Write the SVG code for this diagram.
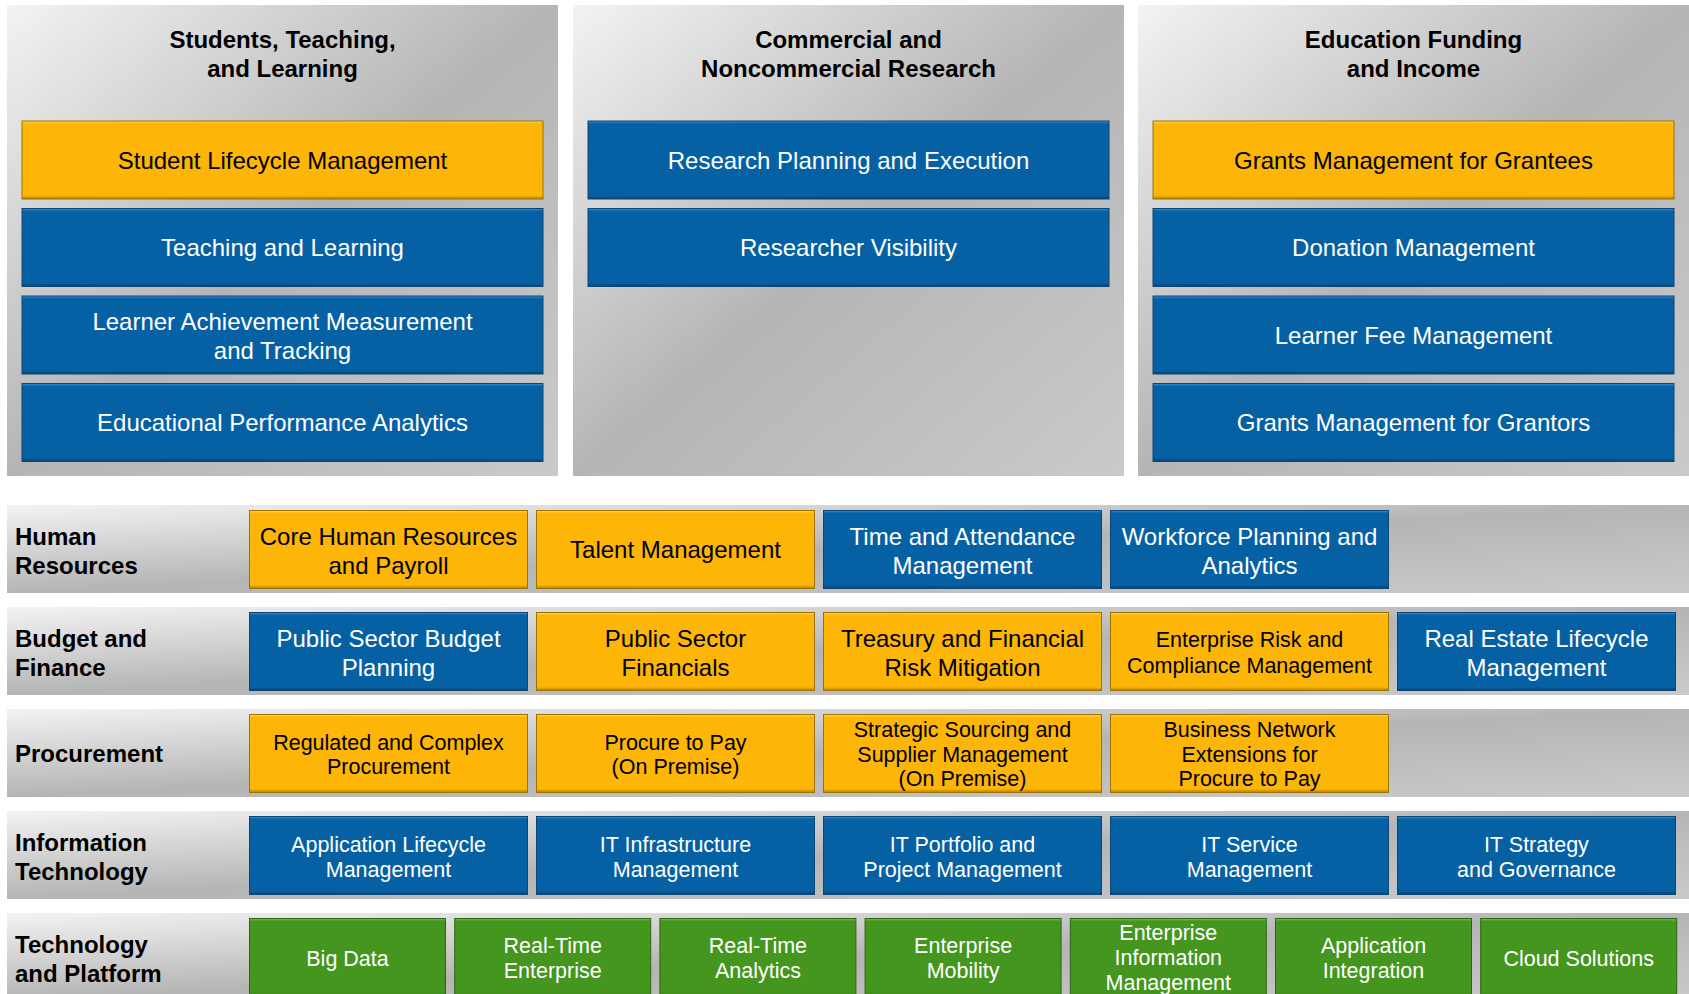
<svg xmlns="http://www.w3.org/2000/svg" width="1689" height="994" viewBox="0 0 1689 994">
<defs>
<linearGradient id="bg" x1="0" y1="0" x2="1" y2="1">
<stop offset="0" stop-color="#f3f3f3"/>
<stop offset="0.5" stop-color="#b5b5b5"/>
<stop offset="1" stop-color="#cacaca"/>
</linearGradient>
<linearGradient id="gGold" x1="0" y1="0" x2="0" y2="1">
<stop offset="0" stop-color="#ffdc55"/>
<stop offset="0.035" stop-color="#fdb507"/>
<stop offset="0.955" stop-color="#fdb507"/>
<stop offset="1" stop-color="#b07e00"/>
</linearGradient>
<linearGradient id="gBlue" x1="0" y1="0" x2="0" y2="1">
<stop offset="0" stop-color="#3a90d8"/>
<stop offset="0.035" stop-color="#0661a4"/>
<stop offset="0.955" stop-color="#0661a4"/>
<stop offset="1" stop-color="#0a426c"/>
</linearGradient>
<linearGradient id="gGreen" x1="0" y1="0" x2="0" y2="1">
<stop offset="0" stop-color="#74c552"/>
<stop offset="0.035" stop-color="#44961e"/>
<stop offset="0.955" stop-color="#44961e"/>
<stop offset="1" stop-color="#2c6412"/>
</linearGradient>
</defs>
<style>
.bgp{fill:url(#bg)}
.gold{fill:url(#gGold);stroke:#9c7200;stroke-width:1}
.blue{fill:url(#gBlue);stroke:#0c4676;stroke-width:1}
.green{fill:url(#gGreen);stroke:#2d6613;stroke-width:1}
text{font-family:"Liberation Sans",Arial,Helvetica,sans-serif}
.c{text-anchor:middle}
.dk{fill:#000}
.lt{fill:#fff}
.f24{font-size:24px}
.f21{font-size:21.5px}
.hd{font-size:24px;font-weight:bold;fill:#000}
</style>
<rect width="1689" height="994" fill="#fff"/>

<!-- Top panels -->
<g id="panel-students">
<rect class="bgp" x="7" y="5" width="551" height="471"/>
<text class="hd c" x="282.5"><tspan x="282.5" y="48">Students, Teaching,</tspan><tspan x="282.5" y="77">and Learning</tspan></text>
</g>
<g id="panel-research">
<rect class="bgp" x="573" y="5" width="551" height="471"/>
<text class="hd c" x="848.5"><tspan x="848.5" y="48">Commercial and</tspan><tspan x="848.5" y="77">Noncommercial Research</tspan></text>
</g>
<g id="panel-funding">
<rect class="bgp" x="1138" y="5" width="551" height="471"/>
<text class="hd c" x="1413.5"><tspan x="1413.5" y="48">Education Funding</tspan><tspan x="1413.5" y="77">and Income</tspan></text>
</g>

<g id="student-lifecycle"><rect class="gold" x="22" y="121" width="521" height="78"/><text class="c dk f24" x="282.5" y="168.6">Student Lifecycle Management</text></g>
<g id="teaching-learning"><rect class="blue" x="22" y="208.5" width="521" height="78"/><text class="c lt f24" x="282.5" y="256.1">Teaching and Learning</text></g>
<g id="learner-achievement"><rect class="blue" x="22" y="296" width="521" height="78"/><text class="c lt f24"><tspan x="282.5" y="330">Learner Achievement Measurement</tspan><tspan x="282.5" y="359">and Tracking</tspan></text></g>
<g id="educational-analytics"><rect class="blue" x="22" y="383.5" width="521" height="78"/><text class="c lt f24" x="282.5" y="431.1">Educational Performance Analytics</text></g>

<g id="research-planning"><rect class="blue" x="588" y="121" width="521" height="78"/><text class="c lt f24" x="848.5" y="168.6">Research Planning and Execution</text></g>
<g id="researcher-visibility"><rect class="blue" x="588" y="208.5" width="521" height="78"/><text class="c lt f24" x="848.5" y="256.1">Researcher Visibility</text></g>

<g id="grants-grantees"><rect class="gold" x="1153" y="121" width="521" height="78"/><text class="c dk f24" x="1413.5" y="168.6">Grants Management for Grantees</text></g>
<g id="donation-management"><rect class="blue" x="1153" y="208.5" width="521" height="78"/><text class="c lt f24" x="1413.5" y="256.1">Donation Management</text></g>
<g id="learner-fee"><rect class="blue" x="1153" y="296" width="521" height="78"/><text class="c lt f24" x="1413.5" y="343.6">Learner Fee Management</text></g>
<g id="grants-grantors"><rect class="blue" x="1153" y="383.5" width="521" height="78"/><text class="c lt f24" x="1413.5" y="431.1">Grants Management for Grantors</text></g>

<!-- Row bands -->
<g id="row-hr">
<rect class="bgp" x="7" y="505" width="1682" height="88"/>
<text class="hd"><tspan x="15" y="544.5">Human</tspan><tspan x="15" y="573.5">Resources</tspan></text>
</g>
<g id="row-budget">
<rect class="bgp" x="7" y="607" width="1682" height="88"/>
<text class="hd"><tspan x="15" y="646.5">Budget and</tspan><tspan x="15" y="675.5">Finance</tspan></text>
</g>
<g id="row-procurement">
<rect class="bgp" x="7" y="709" width="1682" height="88"/>
<text class="hd" x="15" y="762">Procurement</text>
</g>
<g id="row-it">
<rect class="bgp" x="7" y="811" width="1682" height="88"/>
<text class="hd"><tspan x="15" y="850.5">Information</tspan><tspan x="15" y="879.5">Technology</tspan></text>
</g>
<g id="row-platform">
<rect class="bgp" x="7" y="913" width="1682" height="88"/>
<text class="hd"><tspan x="15" y="952.5">Technology</tspan><tspan x="15" y="981.5">and Platform</tspan></text>
</g>

<!-- HR -->
<g id="core-hr"><rect class="gold" x="249.5" y="510.5" width="278" height="78"/><text class="c dk f24"><tspan x="388.5" y="544.5">Core Human Resources</tspan><tspan x="388.5" y="573.5">and Payroll</tspan></text></g>
<g id="talent"><rect class="gold" x="536.5" y="510.5" width="278" height="78"/><text class="c dk f24" x="675.5" y="558">Talent Management</text></g>
<g id="time-attendance"><rect class="blue" x="823.5" y="510.5" width="278" height="78"/><text class="c lt f24"><tspan x="962.5" y="544.5">Time and Attendance</tspan><tspan x="962.5" y="573.5">Management</tspan></text></g>
<g id="workforce"><rect class="blue" x="1110.5" y="510.5" width="278" height="78"/><text class="c lt f24"><tspan x="1249.5" y="544.5">Workforce Planning and</tspan><tspan x="1249.5" y="573.5">Analytics</tspan></text></g>

<!-- Budget -->
<g id="budget-planning"><rect class="blue" x="249.5" y="612.5" width="278" height="78"/><text class="c lt f24"><tspan x="388.5" y="646.5">Public Sector Budget</tspan><tspan x="388.5" y="675.5">Planning</tspan></text></g>
<g id="ps-financials"><rect class="gold" x="536.5" y="612.5" width="278" height="78"/><text class="c dk f24"><tspan x="675.5" y="646.5">Public Sector</tspan><tspan x="675.5" y="675.5">Financials</tspan></text></g>
<g id="treasury"><rect class="gold" x="823.5" y="612.5" width="278" height="78"/><text class="c dk f24"><tspan x="962.5" y="646.5">Treasury and Financial</tspan><tspan x="962.5" y="675.5">Risk Mitigation</tspan></text></g>
<g id="risk-compliance"><rect class="gold" x="1110.5" y="612.5" width="278" height="78"/><text class="c dk f21"><tspan x="1249.5" y="646.5">Enterprise Risk and</tspan><tspan x="1249.5" y="672.5">Compliance Management</tspan></text></g>
<g id="real-estate"><rect class="blue" x="1397.5" y="612.5" width="278" height="78"/><text class="c lt f24"><tspan x="1536.5" y="646.5">Real Estate Lifecycle</tspan><tspan x="1536.5" y="675.5">Management</tspan></text></g>

<!-- Procurement -->
<g id="regulated"><rect class="gold" x="249.5" y="714.5" width="278" height="78"/><text class="c dk f21"><tspan x="388.5" y="749.5">Regulated and Complex</tspan><tspan x="388.5" y="774">Procurement</tspan></text></g>
<g id="procure-pay"><rect class="gold" x="536.5" y="714.5" width="278" height="78"/><text class="c dk f21"><tspan x="675.5" y="749.5">Procure to Pay</tspan><tspan x="675.5" y="774">(On Premise)</tspan></text></g>
<g id="sourcing"><rect class="gold" x="823.5" y="714.5" width="278" height="78"/><text class="c dk f21"><tspan x="962.5" y="737">Strategic Sourcing and</tspan><tspan x="962.5" y="761.5">Supplier Management</tspan><tspan x="962.5" y="786">(On Premise)</tspan></text></g>
<g id="business-network"><rect class="gold" x="1110.5" y="714.5" width="278" height="78"/><text class="c dk f21"><tspan x="1249.5" y="737">Business Network</tspan><tspan x="1249.5" y="761.5">Extensions for</tspan><tspan x="1249.5" y="786">Procure to Pay</tspan></text></g>

<!-- IT -->
<g id="alm"><rect class="blue" x="249.5" y="816.5" width="278" height="78"/><text class="c lt f21"><tspan x="388.5" y="851.5">Application Lifecycle</tspan><tspan x="388.5" y="876.5">Management</tspan></text></g>
<g id="infra"><rect class="blue" x="536.5" y="816.5" width="278" height="78"/><text class="c lt f21"><tspan x="675.5" y="851.5">IT Infrastructure</tspan><tspan x="675.5" y="876.5">Management</tspan></text></g>
<g id="portfolio"><rect class="blue" x="823.5" y="816.5" width="278" height="78"/><text class="c lt f21"><tspan x="962.5" y="851.5">IT Portfolio and</tspan><tspan x="962.5" y="876.5">Project Management</tspan></text></g>
<g id="service"><rect class="blue" x="1110.5" y="816.5" width="278" height="78"/><text class="c lt f21"><tspan x="1249.5" y="851.5">IT Service</tspan><tspan x="1249.5" y="876.5">Management</tspan></text></g>
<g id="strategy"><rect class="blue" x="1397.5" y="816.5" width="278" height="78"/><text class="c lt f21"><tspan x="1536.5" y="851.5">IT Strategy</tspan><tspan x="1536.5" y="876.5">and Governance</tspan></text></g>

<!-- Technology and Platform -->
<g id="big-data"><rect class="green" x="249.5" y="918.5" width="196" height="78"/><text class="c lt f21" x="347.5" y="965.5">Big Data</text></g>
<g id="rt-enterprise"><rect class="green" x="454.7" y="918.5" width="196" height="78"/><text class="c lt f21"><tspan x="552.7" y="953">Real-Time</tspan><tspan x="552.7" y="978">Enterprise</tspan></text></g>
<g id="rt-analytics"><rect class="green" x="659.9" y="918.5" width="196" height="78"/><text class="c lt f21"><tspan x="757.9" y="953">Real-Time</tspan><tspan x="757.9" y="978">Analytics</tspan></text></g>
<g id="mobility"><rect class="green" x="865.1" y="918.5" width="196" height="78"/><text class="c lt f21"><tspan x="963.1" y="953">Enterprise</tspan><tspan x="963.1" y="978">Mobility</tspan></text></g>
<g id="eim"><rect class="green" x="1070.3" y="918.5" width="196" height="78"/><text class="c lt f21"><tspan x="1168.3" y="939.5">Enterprise</tspan><tspan x="1168.3" y="964.5">Information</tspan><tspan x="1168.3" y="989.5">Management</tspan></text></g>
<g id="integration"><rect class="green" x="1275.5" y="918.5" width="196" height="78"/><text class="c lt f21"><tspan x="1373.5" y="953">Application</tspan><tspan x="1373.5" y="978">Integration</tspan></text></g>
<g id="cloud"><rect class="green" x="1480.7" y="918.5" width="196" height="78"/><text class="c lt f21" x="1578.7" y="965.5">Cloud Solutions</text></g>

<g id="connectors"/>
</svg>
